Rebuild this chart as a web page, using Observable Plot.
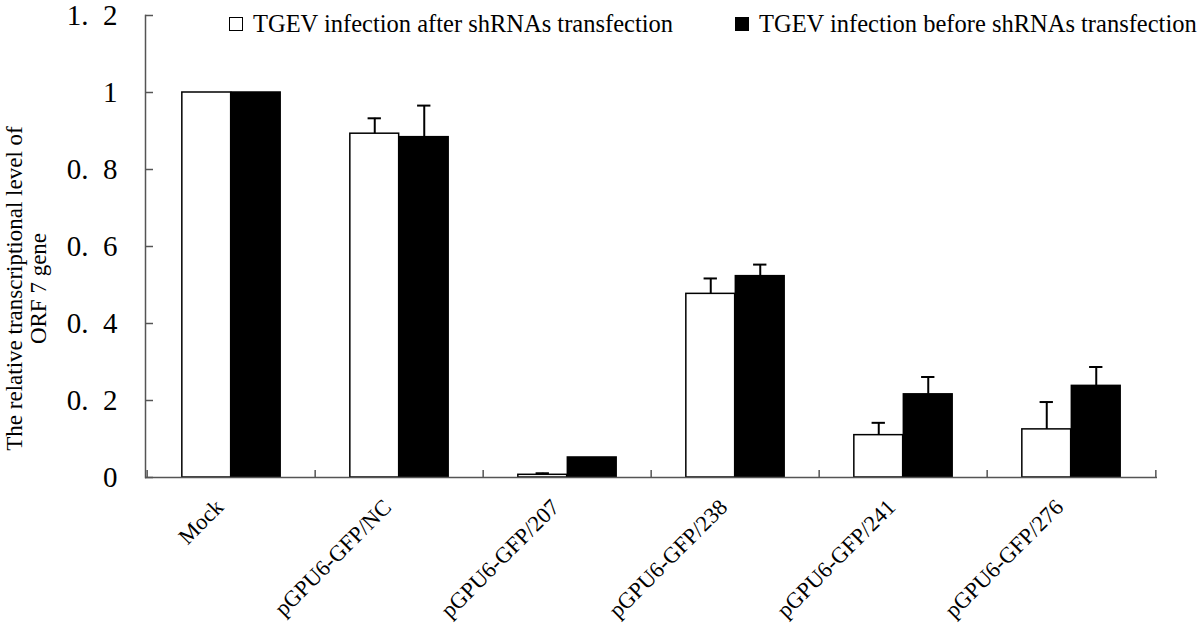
<!DOCTYPE html>
<html><head><meta charset="utf-8">
<script src="https://cdn.jsdelivr.net/npm/d3@7"></script>
<script src="https://cdn.jsdelivr.net/npm/@observablehq/plot@0.6"></script>
<style>
body{margin:0;background:#fff;}
#wrap{position:relative;width:1200px;height:626px;overflow:hidden;}
.legend{position:absolute;top:0;left:0;font-family:"Liberation Serif","Times New Roman",serif;font-size:24.5px;color:#000;}
.item{position:absolute;top:10px;height:28px;display:flex;align-items:center;white-space:nowrap;}
.sw{width:12px;height:12px;border:1.5px solid #000;margin-right:10px;box-sizing:content-box;}
</style></head><body><div id="wrap"></div>
<script>
const categories = ["Mock", "pGPU6-GFP/NC", "pGPU6-GFP/207", "pGPU6-GFP/238", "pGPU6-GFP/241", "pGPU6-GFP/276"];
const seriesNames = ["TGEV infection after shRNAs transfection", "TGEV infection before shRNAs transfection"];
const seriesColors = ["white", "black"];
const afterValues  = [1, 0.893, 0.007, 0.477, 0.110, 0.125];
const afterErrors  = [0, 0.040, 0.004, 0.040, 0.032, 0.071];
const beforeValues = [1, 0.884, 0.052, 0.523, 0.216, 0.238];
const beforeErrors = [0, 0.082, 0, 0.030, 0.045, 0.049];
const yTicks = [0, 0.2, 0.4, 0.6, 0.8, 1, 1.2];
const yTitle = "The relative transcriptional level of\nORF 7 gene";

const W = 1200, H = 626, mL = 145, mR = 43, mT = 15, mB = 149;
const plotW = W - mL - mR, plotH = H - mT - mB;
const step = plotW / categories.length;
const barW = 49.5;
const pxPerUnit = plotH / 1.2;
const serif = "Liberation Serif, Times New Roman, serif";

const after = categories.map((c, i) => ({cat: c, value: afterValues[i], err: afterErrors[i]}));
const before = categories.map((c, i) => ({cat: c, value: beforeValues[i], err: beforeErrors[i]}));

const errMarks = (rows, dx) => [
  Plot.ruleX(rows.filter(d => d.err > 0), {x: "cat", y1: "value", y2: d => d.value + d.err, dx, stroke: "black", strokeWidth: 2}),
  Plot.tickY(rows.filter(d => d.err > 0), {x: "cat", y: d => d.value + d.err, dx, stroke: "black", strokeWidth: 2, insetLeft: (step - 14) / 2, insetRight: (step - 14) / 2})
];

const chart = Plot.plot({
  width: W, height: H,
  marginLeft: mL, marginRight: mR, marginTop: mT, marginBottom: mB,
  style: {fontFamily: serif, background: "white", color: "black"},
  x: {type: "band", domain: categories, paddingInner: 0, paddingOuter: 0, label: null},
  y: {domain: [0, 1.2], label: null},
  marks: [
    Plot.barY(after, {x: "cat", y: "value", fill: seriesColors[0], stroke: "black", strokeWidth: 1.5, insetLeft: step / 2 - barW, insetRight: step / 2}),
    Plot.barY(before, {x: "cat", y: "value", fill: seriesColors[1], stroke: "black", strokeWidth: 1.5, insetLeft: step / 2, insetRight: step / 2 - barW}),
    ...errMarks(after, -barW / 2),
    ...errMarks(before, barW / 2),
    Plot.frame({anchor: "left", stroke: "#555", strokeWidth: 1.5}),
    Plot.ruleY([0], {stroke: "#555", strokeWidth: 1.5}),
    Plot.ruleY(yTicks, {y: d => d, stroke: "#555", strokeWidth: 1.5, insetRight: plotW - 8}),
    Plot.ruleX(categories, {x: d => d, dx: -step / 2, y1: 0, y2: 7 / pxPerUnit, stroke: "#555", strokeWidth: 1.5}),
    Plot.ruleX(categories.slice(-1), {x: d => d, dx: step / 2, y1: 0, y2: 7 / pxPerUnit, stroke: "#555", strokeWidth: 1.5}),
    Plot.axisY({ticks: yTicks, tickSize: 0, tickPadding: 28, tickFormat: d => String(d).replace(".", ".\u2002"), fontSize: 29, fontFamily: serif, label: null}),
    Plot.axisX({tickSize: 0, tickRotate: -45, tickPadding: 26, dx: -12, fontSize: 22.5, fontFamily: serif, label: null}),
    Plot.text([yTitle], {text: d => d, frameAnchor: "left", textAnchor: "middle", lineAnchor: "middle", rotate: -90, dx: 26 - mL, dy: 42, fontSize: 23, fontFamily: serif, lineHeight: 1.05, fill: "black"})
  ]
});

const wrap = document.getElementById("wrap");
wrap.appendChild(chart);
const legend = document.createElement("div");
legend.className = "legend";
const legendLeft = [229, 735];
seriesNames.forEach((name, i) => {
  const item = document.createElement("div");
  item.className = "item";
  item.style.left = legendLeft[i] + "px";
  const sw = document.createElement("span");
  sw.className = "sw";
  sw.style.background = seriesColors[i];
  const label = document.createElement("span");
  label.textContent = name;
  item.appendChild(sw);
  item.appendChild(label);
  legend.appendChild(item);
});
wrap.appendChild(legend);
</script>
</body></html>
